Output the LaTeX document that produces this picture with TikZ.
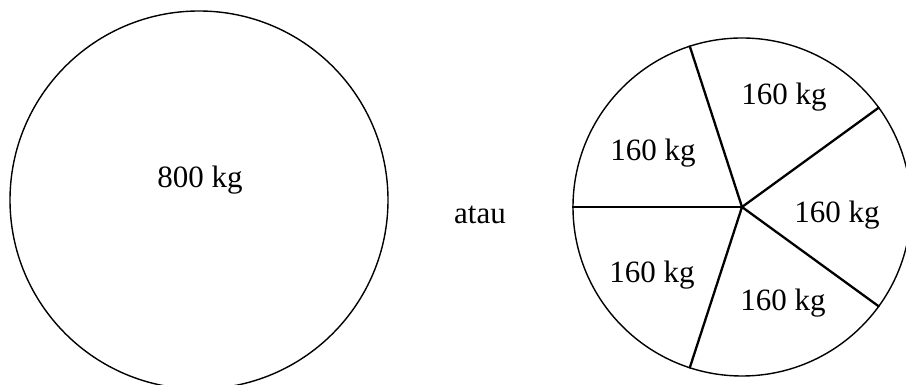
\documentclass[tikz,border=0pt]{standalone}
\usepackage{fontspec}
\setmainfont{Liberation Serif}
\begin{document}
\begin{tikzpicture}[x=1pt,y=1pt,
  disc/.style={circle,draw,line width=1.4pt,inner sep=0pt},
  spoke/.style={line width=2.3pt},
  lbl/.style={font=\fontsize{31}{36}\selectfont,inner sep=0pt}]
\useasboundingbox (0,0) rectangle (906,385);
\clip (0,0) rectangle (906,385);
\node[disc,minimum size=378pt] (L) at (199,185) {};
\node[lbl] (l800) at (200,205) {800 kg};
\node[lbl] (atau) at (480,170) {atau};
\node[disc,minimum size=338pt] (R) at (742,178) {};
\foreach \a in {180,108,36,-36,-108}{
  \draw[spoke] (R.center) -- (R.\a);
}
\node[lbl] (p1) at (784,288) {160 kg};
\node[lbl] (p2) at (653,232) {160 kg};
\node[lbl] (p3) at (837,170) {160 kg};
\node[lbl] (p4) at (652,110) {160 kg};
\node[lbl] (p5) at (783,82) {160 kg};
\end{tikzpicture}
\end{document}
